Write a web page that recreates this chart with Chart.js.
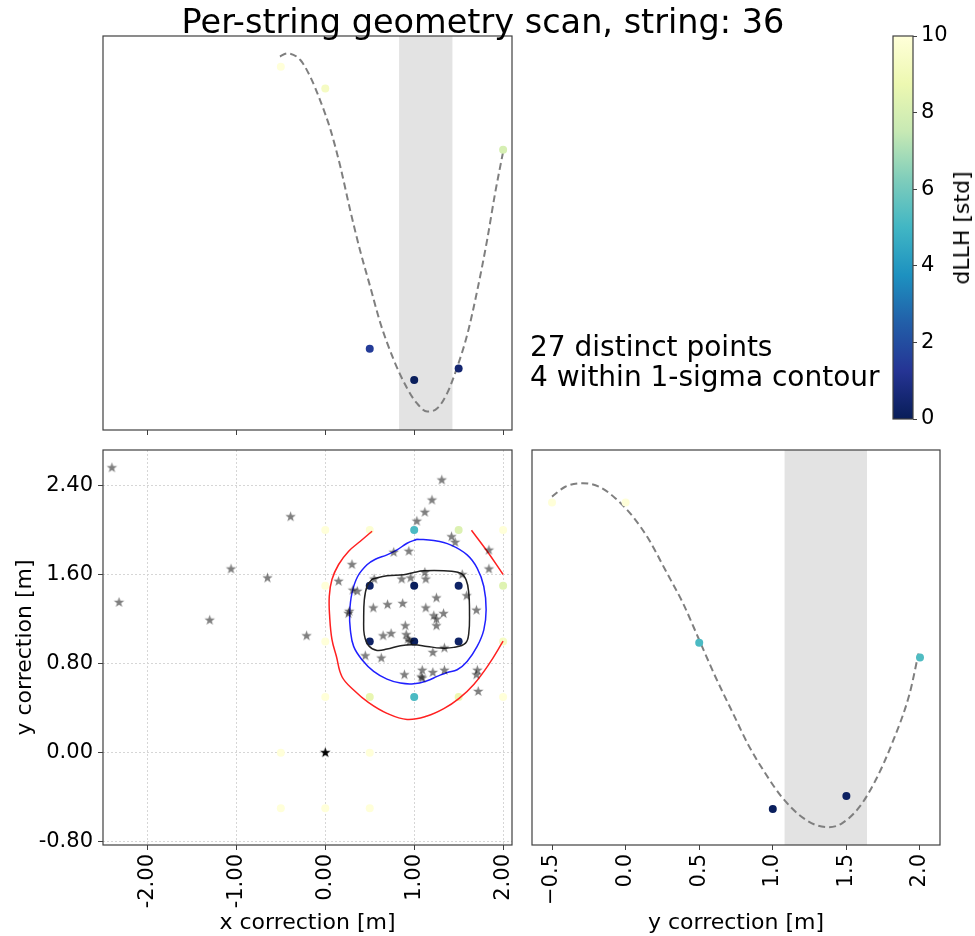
<!DOCTYPE html>
<html>
<head>
<meta charset="utf-8">
<script src="https://cdn.jsdelivr.net/npm/chart.js@4.4.0/dist/chart.umd.min.js"></script>
<style>
  body { margin: 0; background: #fff; }
  #fig { position: relative; width: 975px; height: 936px; overflow: hidden;
         font-family: 'DejaVu Sans', sans-serif; color: #000; }
  #fig canvas { position: absolute; }
  .txt { position: absolute; white-space: nowrap; }
</style>
</head>
<body>
<div id="fig">
  <canvas id="topChart" width="520" height="410" style="left:0;top:30px"></canvas>
  <canvas id="blChart" width="520" height="496" style="left:0;top:440px"></canvas>
  <canvas id="brChart" width="455" height="496" style="left:520px;top:440px"></canvas>
  <canvas id="cbChart" width="95" height="420" style="left:880px;top:20px"></canvas>
  <div class="txt" style="left:0;width:966px;text-align:center;top:3px;font-size:33.5px;line-height:37px">Per-string geometry scan, string: 36</div>
  <div class="txt" style="left:530px;top:332px;font-size:28px;line-height:30px">27 distinct points<br>4 within 1-sigma contour</div>
  <div class="txt" style="left:962px;top:228px;font-size:22px;line-height:26px;transform:translate(-50%,-50%) rotate(-90deg)">dLLH [std]</div>
</div>
<script>
// ---- data ----
// top panel: LLH profile along x (y axis is unlabelled, 0..100 = bottom..top of box)
const topX = [-0.5, 0, 0.5, 1, 1.5, 2];
const topLLH = [92.2, 86.7, 20.6, 12.7, 15.6, 71.1];
const topD = [10, 9.3, 1.5, 0.1, 0.5, 8.0];
const topFitX = [-0.51, -0.43, -0.28, -0.17, -0.06, 0.06, 0.17, 0.28, 0.39, 0.51, 0.62, 0.77, 0.92, 1.03, 1.145, 1.26, 1.37, 1.48, 1.6, 1.71, 1.82, 1.91, 2.0];
const topFitY = [94.8, 95.6, 93.9, 89.7, 83.8, 76.1, 66.8, 55.8, 45.7, 36.0, 27.1, 17.8, 10.6, 6.8, 4.7, 5.5, 9.3, 15.7, 24.5, 35.5, 48.2, 60.1, 70.6];
const topBand = [0.83, 1.43];

// right panel: LLH profile along y
const rightX = [-0.5, 0, 0.5, 1, 1.5, 2];
const rightLLH = [86.7, 86.7, 51.2, 9.1, 12.4, 47.5];
const rightD = [10, 10, 5.2, 0.1, 0.2, 5.3];
const rightFitX = [-0.5, -0.41, -0.29, -0.18, -0.07, 0.05, 0.16, 0.27, 0.39, 0.5, 0.61, 0.73, 0.84, 0.95, 1.06, 1.18, 1.29, 1.38, 1.47, 1.59, 1.7, 1.81, 1.93, 1.99];
const rightFitY = [88.2, 90.7, 91.6, 90.7, 87.8, 83.1, 77.2, 69.6, 61.2, 51.9, 42.6, 33.3, 24.9, 18.1, 12.2, 7.6, 5.1, 4.5, 5.5, 9.7, 16.5, 25.7, 38.4, 48.5];
const rightBand = [1.08, 1.64];

// main panel: scan grid coloured by dLLH
const gridX = [0, 0.5, 1, 1.5, 2, 0, 0.5, 1, 1.5, 2, 0, 0.5, 1, 1.5, 2, 0, 0.5, 1, 1.5, 2, -0.5, 0.5, -0.5, 0, 0.5];
const gridY = [2, 2, 2, 2, 2, 1.5, 1.5, 1.5, 1.5, 1.5, 1, 1, 1, 1, 1, 0.5, 0.5, 0.5, 0.5, 0.5, 0, 0, -0.5, -0.5, -0.5];
const gridD = [10, 9.8, 5.2, 8.2, 10, 10, 0.3, 0.1, 0.3, 8.3, 10, 0.3, 0.1, 0.3, 9.4, 10, 8.6, 5.2, 8.8, 10, 10, 10, 10, 10, 10];

// main panel: other fits (stars)
const starX = [-2.40, 1.31, 1.20, 1.12, 1.03, -0.39, 1.42, 1.46, 1.84, 0.77, 0.94, -1.06, 0.30, 1.84, -0.65, 0.15, 0.55, 0.86, 0.96, 1.12, 1.13, 1.54, -2.32, 0.31, 0.36, 1.59, 1.25, 0.70, 0.87, 0.54, 1.13, 1.70, 0.27, 0.26, 1.22, 1.33, 1.25, -1.30, 0.90, 1.25, -0.21, 0.65, 0.74, 0.91, 0.93, 0.95, 1.34, 1.21, 0.45, 0.63, 0.89, 1.09, 1.08, 1.09, 1.21, 1.34, 1.71, 1.70, 1.72];
const starY = [2.56, 2.45, 2.27, 2.16, 2.08, 2.12, 1.94, 1.89, 1.82, 1.80, 1.81, 1.65, 1.69, 1.65, 1.57, 1.54, 1.56, 1.56, 1.57, 1.62, 1.56, 1.60, 1.35, 1.46, 1.45, 1.41, 1.39, 1.33, 1.34, 1.30, 1.30, 1.28, 1.27, 1.25, 1.23, 1.25, 1.20, 1.19, 1.14, 1.14, 1.05, 1.05, 1.07, 1.06, 1.02, 1.00, 0.94, 0.90, 0.87, 0.85, 0.70, 0.74, 0.68, 0.67, 0.72, 0.74, 0.74, 0.70, 0.55];
const nominalX = [0];
const nominalY = [0];

// contours
const sig1X = [0.526, 0.694, 0.882, 0.995, 1.107, 1.333, 1.520, 1.584, 1.614, 1.622, 1.614, 1.577, 1.445, 1.295, 1.145, 0.995, 0.845, 0.694, 0.582, 0.488, 0.439, 0.432, 0.439, 0.469, 0.526];
const sig1Y = [1.559, 1.589, 1.598, 1.619, 1.634, 1.634, 1.613, 1.553, 1.433, 1.254, 1.074, 0.984, 0.946, 0.940, 0.955, 0.969, 0.961, 0.931, 0.919, 0.961, 1.059, 1.194, 1.373, 1.493, 1.559];
const sig2X = [1.032, 1.220, 1.408, 1.595, 1.708, 1.783, 1.809, 1.783, 1.708, 1.595, 1.483, 1.370, 1.258, 1.145, 0.995, 0.845, 0.694, 0.544, 0.413, 0.319, 0.282, 0.274, 0.300, 0.364, 0.469, 0.563, 0.694, 0.807, 0.920, 1.032];
const sig2Y = [1.918, 1.906, 1.867, 1.777, 1.658, 1.493, 1.284, 1.104, 0.955, 0.820, 0.745, 0.721, 0.685, 0.646, 0.619, 0.625, 0.661, 0.730, 0.835, 0.955, 1.104, 1.254, 1.433, 1.583, 1.688, 1.738, 1.777, 1.822, 1.882, 1.918];
const sig3aX = [0.526, 0.394, 0.263, 0.150, 0.075, 0.045, 0.049, 0.075, 0.124, 0.188, 0.319, 0.488, 0.694, 0.920, 1.145, 1.333, 1.502, 1.670, 1.839, 2.0];
const sig3aY = [1.990, 1.900, 1.810, 1.691, 1.556, 1.406, 1.227, 1.017, 0.868, 0.682, 0.563, 0.449, 0.353, 0.299, 0.329, 0.395, 0.485, 0.613, 0.793, 1.002];
const sig3bX = [1.644, 1.821, 2.0];
const sig3bY = [1.999, 1.810, 1.601];

// ticks
const mainXTicks = [-2, -1, 0, 1, 2];
const mainYTicks = [-0.8, 0, 0.8, 1.6, 2.4];
const rightXTicks = [-0.5, 0, 0.5, 1, 1.5, 2];
const cbTicks = [0, 2, 4, 6, 8, 10];

// ---- helpers ----
const YLGNBU = ['#081d58', '#253494', '#225ea8', '#1d91c0', '#41b6c4', '#7fcdbb', '#c7e9b4', '#edf8b1', '#ffffd9'];
function hexRgb(h) {
    return [1, 3, 5].map(i => parseInt(h.slice(i, i + 2), 16));
}
function cmap(v) {
    const t = Math.max(0, Math.min(1, v / 10)) * (YLGNBU.length - 1);
    const i = Math.min(Math.floor(t), YLGNBU.length - 2);
    const f = t - i;
    const a = hexRgb(YLGNBU[i]), b = hexRgb(YLGNBU[i + 1]);
    const c = a.map((av, k) => Math.round(av + (b[k] - av) * f));
    return `rgb(${c[0]},${c[1]},${c[2]})`;
}
function pts(xs, ys) {
    return xs.map((x, i) => ({ x: x, y: ys[i] }));
}
function makeStar(color, r) {
    const c = document.createElement('canvas');
    const s = Math.ceil(r * 2) + 2;
    c.width = c.height = s;
    const ctx = c.getContext('2d');
    ctx.fillStyle = color;
    ctx.beginPath();
    for (let k = 0; k < 10; k++) {
        const rad = k % 2 ? r * 0.4 : r;
        const ang = -Math.PI / 2 + k * Math.PI / 5;
        ctx.lineTo(s / 2 + rad * Math.cos(ang), s / 2 + rad * Math.sin(ang));
    }
    ctx.closePath();
    ctx.fill();
    return c;
}
const setTicks = list => s => { s.ticks = list.map(v => ({ value: v })); };
// fixed axis size, and no extra room for half-labels at the ends
const fixH = h => s => { s.height = h; s.paddingLeft = 0; s.paddingRight = 0; };
const fixW = w => s => { s.width = w; s.paddingTop = 0; s.paddingBottom = 0; };

Chart.defaults.font.family = "'DejaVu Sans', sans-serif";
Chart.defaults.color = '#000';
Chart.defaults.animation = false;
Chart.defaults.plugins.legend.display = false;
Chart.defaults.plugins.tooltip.enabled = false;

const frame = {
    id: 'frame',
    afterDraw(chart) {
        const { ctx, chartArea: a } = chart;
        ctx.save();
        ctx.strokeStyle = '#404040';
        ctx.lineWidth = 1.2;
        ctx.strokeRect(a.left, a.top, a.right - a.left, a.bottom - a.top);
        ctx.restore();
    }
};
function band(range) {
    return {
        id: 'band',
        beforeDatasetsDraw(chart) {
            const { ctx, chartArea: a, scales: { x } } = chart;
            const x0 = x.getPixelForValue(range[0]), x1 = x.getPixelForValue(range[1]);
            ctx.save();
            ctx.fillStyle = 'rgba(128,128,128,0.22)';
            ctx.fillRect(x0, a.top, x1 - x0, a.bottom - a.top);
            ctx.restore();
        }
    };
}

const tickFont = { size: 21 };
const titleFont = { size: 22, lineHeight: 1.2 };
const fitLine = (xs, ys) => ({
    data: pts(xs, ys), showLine: true, pointRadius: 0, borderColor: '#7f7f7f',
    borderWidth: 2, borderDash: [7, 4], cubicInterpolationMode: 'monotone', order: 1
});
const dots = (xs, ys, ds) => ({
    data: pts(xs, ys), pointRadius: 4, pointBorderWidth: 0,
    pointBackgroundColor: ds.map(cmap), order: 0
});

// ---- top panel ----
new Chart(document.getElementById('topChart'), {
    type: 'scatter',
    data: { datasets: [dots(topX, topLLH, topD), fitLine(topFitX, topFitY)] },
    options: {
        responsive: false,
        layout: { padding: { left: 103, right: 8, top: 6, bottom: 0 } },
        scales: {
            x: {
                type: 'linear', min: -2.5, max: 2.1,
                afterBuildTicks: setTicks(mainXTicks),
                ticks: { display: false },
                grid: { drawOnChartArea: false, tickLength: 5, tickColor: '#404040' },
                border: { display: false },
                afterFit: fixH(10)
            },
            y: { display: false, min: 0, max: 100 }
        }
    },
    plugins: [band(topBand), frame]
});

// ---- main panel ----
new Chart(document.getElementById('blChart'), {
    type: 'scatter',
    data: {
        datasets: [
            { data: pts(nominalX, nominalY), pointStyle: makeStar('#000', 5.5), order: 0 },
            { data: pts(starX, starY), pointStyle: makeStar('rgba(0,0,0,0.5)', 5.5), order: 1 },
            { data: pts(sig1X, sig1Y), showLine: true, pointRadius: 0, borderColor: '#222', borderWidth: 1.5, tension: 0.4, order: 2 },
            { data: pts(sig2X, sig2Y), showLine: true, pointRadius: 0, borderColor: '#2020ff', borderWidth: 1.5, tension: 0.4, order: 2 },
            { data: pts(sig3aX, sig3aY), showLine: true, pointRadius: 0, borderColor: '#ff2020', borderWidth: 1.5, tension: 0.4, order: 2 },
            { data: pts(sig3bX, sig3bY), showLine: true, pointRadius: 0, borderColor: '#ff2020', borderWidth: 1.5, tension: 0.4, order: 2 },
            Object.assign(dots(gridX, gridY, gridD), { order: 3 })
        ]
    },
    options: {
        responsive: false,
        layout: { padding: { left: 0, right: 8, top: 10, bottom: 0 } },
        scales: {
            x: {
                type: 'linear', min: -2.5, max: 2.1,
                afterBuildTicks: setTicks(mainXTicks),
                ticks: { autoSkip: false, minRotation: 90, maxRotation: 90, font: tickFont, padding: 4,
                         callback: v => v.toFixed(2) },
                grid: { color: '#d6d6d6', tickLength: 5, tickColor: '#404040' },
                border: { display: false, dash: [2, 2] },
                title: { display: true, text: 'x correction [m]', font: titleFont, padding: { top: 0, bottom: 0 } },
                afterFit: fixH(91)
            },
            y: {
                type: 'linear', min: -0.83, max: 2.72,
                afterBuildTicks: setTicks(mainYTicks),
                ticks: { autoSkip: false, font: tickFont, padding: 5, callback: v => v.toFixed(2) },
                grid: { color: '#d6d6d6', tickLength: 5, tickColor: '#404040' },
                border: { display: false, dash: [2, 2] },
                title: { display: true, text: 'y correction [m]', font: titleFont, padding: { top: 12, bottom: 0 } },
                afterFit: fixW(103)
            }
        }
    },
    plugins: [frame]
});

// ---- right panel ----
new Chart(document.getElementById('brChart'), {
    type: 'scatter',
    data: { datasets: [dots(rightX, rightLLH, rightD), fitLine(rightFitX, rightFitY)] },
    options: {
        responsive: false,
        layout: { padding: { left: 12, right: 35, top: 10, bottom: 0 } },
        scales: {
            x: {
                type: 'linear', min: -0.636, max: 2.136,
                afterBuildTicks: setTicks(rightXTicks),
                ticks: { autoSkip: false, minRotation: 90, maxRotation: 90, font: tickFont, padding: 4,
                         callback: v => (v < 0 ? '\u2212' : '') + Math.abs(v).toFixed(1) },
                grid: { drawOnChartArea: false, tickLength: 5, tickColor: '#404040' },
                border: { display: false },
                title: { display: true, text: 'y correction [m]', font: titleFont, padding: { top: 0, bottom: 0 } },
                afterFit: fixH(91)
            },
            y: { display: false, min: 0, max: 100 }
        }
    },
    plugins: [band(rightBand), frame]
});

// ---- colorbar ----
const gradient = {
    id: 'gradient',
    beforeDatasetsDraw(chart) {
        const { ctx, chartArea: a, scales: { y } } = chart;
        const g = ctx.createLinearGradient(0, y.getPixelForValue(0), 0, y.getPixelForValue(10));
        YLGNBU.forEach((c, i) => g.addColorStop(i / (YLGNBU.length - 1), c));
        ctx.save();
        ctx.fillStyle = g;
        ctx.fillRect(a.left, a.top, a.right - a.left, a.bottom - a.top);
        ctx.restore();
    }
};
new Chart(document.getElementById('cbChart'), {
    type: 'scatter',
    data: { datasets: [{ data: [] }] },
    options: {
        responsive: false,
        layout: { padding: { left: 13, right: 0, top: 16, bottom: 21 } },
        scales: {
            x: { display: false, min: 0, max: 1 },
            y: {
                type: 'linear', position: 'right', min: 0, max: 10,
                afterBuildTicks: setTicks(cbTicks),
                ticks: { font: tickFont, padding: 4 },
                grid: { drawOnChartArea: false, tickLength: 4, tickColor: '#404040' },
                border: { display: false },
                afterFit: fixW(62)
            }
        }
    },
    plugins: [gradient, frame]
});
</script>
</body>
</html>
